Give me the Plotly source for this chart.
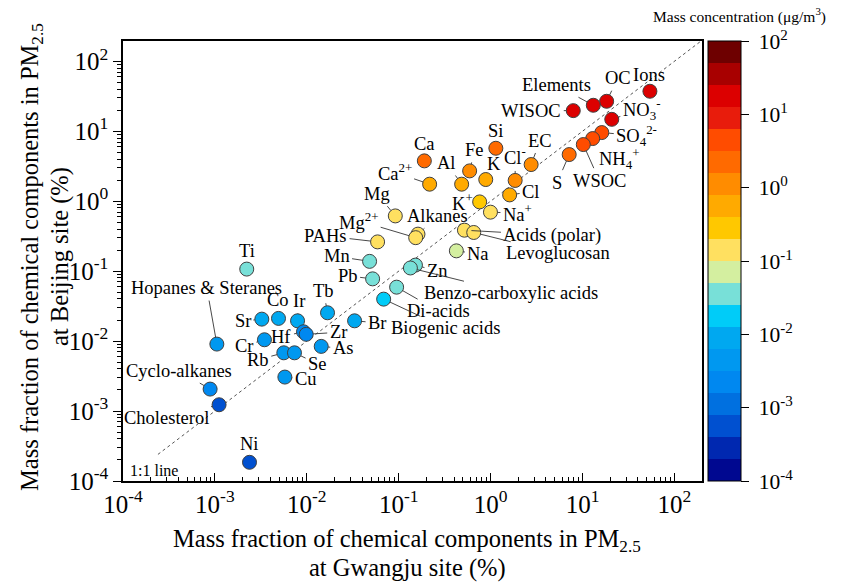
import numpy as np
import plotly.graph_objects as go

# ---------------- data ----------------
names = ["Ions", "OC", "Elements", "WISOC", "NO<sub>3</sub><sup>-</sup>", "SO<sub>4</sub><sup>2-</sup>",
         "NH<sub>4</sub><sup>+</sup>", "WSOC", "S", "EC", "Cl<sup>-</sup>", "Cl", "Si", "Fe", "K", "Al",
         "Ca", "Ca<sup>2+</sup>", "K<sup>+</sup>", "Na<sup>+</sup>", "Acids (polar)", "Levoglucosan",
         "Alkanes", "Mg<sup>2+</sup>", "Mg", "PAHs", "Mn", "Pb", "Na", "Zn", "Benzo-carboxylic acids",
         "Di-acids", "Biogenic acids", "Ti", "Hopanes &amp; Steranes", "Sr", "Co", "Ir", "Tb", "Br",
         "Cr", "Hf", "Zr", "As", "Rb", "Se", "Cu", "Cyclo-alkanes", "Cholesterol", "Ni"]

# mass fraction at Gwangju (%)
gwangju = [54.1, 18.3, 13.1, 7.93, 20.8, 16.2,
           12.9, 10.2, 7.16, 2.76, 1.85, 1.61, 1.14, 0.591, 0.885, 0.484,
           0.19, 0.217, 0.76, 0.996, 0.519, 0.655,
           0.162, 0.153, 0.0918, 0.0589, 0.0482, 0.052, 0.424, 0.152, 0.134,
           0.0949, 0.0686, 0.00222, 0.00105, 0.00324, 0.00492, 0.00793, 0.0168, 0.0331,
           0.00346, 0.0092, 0.00985, 0.01435, 0.00562, 0.00734, 0.00577, 0.000887, 0.00111, 0.00238]

# mass fraction at Beijing (%)
beijing = [37.3, 26.8, 23.5, 19.7, 14.8, 9.57,
           7.86, 6.45, 4.64, 3.34, 1.98, 1.23, 5.71, 2.71, 2.04, 1.75,
           3.77, 1.75, 0.977, 0.697, 0.385, 0.357,
           0.338, 0.301, 0.616, 0.262, 0.138, 0.0776, 0.195, 0.122, 0.111,
           0.059, 0.0398, 0.107, 0.00906, 0.0206, 0.0211, 0.0195, 0.0254, 0.0195,
           0.01045, 0.0136, 0.0125, 0.0084, 0.0068, 0.0068, 0.00306, 0.00206, 0.00123, 0.000185]

# mass concentration (ug/m3)
conc = [18, 18, 18, 18, 18, 4.5,
        4.5, 4.5, 2.2, 1.1, 1.1, 0.55, 2.2, 1.1, 0.55, 0.55,
        2.2, 0.55, 0.28, 0.14, 0.14, 0.14,
        0.14, 0.14, 0.14, 0.14, 0.035, 0.035, 0.07, 0.035, 0.035,
        0.035, 0.018, 0.035, 0.0045, 0.009, 0.009, 0.009, 0.009, 0.009,
        0.0045, 0.0022, 0.0022, 0.0045, 0.0045, 0.0045, 0.0045, 0.0022, 0.0006, 0.0006]

one_to_one = [2.4e-4, 200]
cbar_colors = ["#000890", "#0028B0", "#0050D0", "#0070E0", "#0088F0", "#0098F0", "#00A8F0",
               "#00CCF8", "#78E0D8", "#D4EFA0", "#FFE060", "#FFC800", "#FFAA00", "#FF8C00",
               "#FF6A00", "#FF4C00", "#E81C0C", "#DC0000", "#A80000", "#6E0000"]
decades = [-4, -3, -2, -1, 0, 1, 2]

x_title = ["Mass fraction of chemical components in PM<sub>2.5</sub>", "at Gwangju site (%)"]
y_title = ["Mass fraction of chemical components in PM<sub>2.5</sub>", "at Beijing site (%)"]
cbar_title = "Mass concentration (μg/m<sup>3</sup>)"

# label offsets in pixels (text centre minus point), flag = leader line drawn
label_pos = [(-1, -16, False), (11, -23, True), (-37, -20, True), (-42, 0, True), (30, -10, True), (35, 3, True),
             (27, 20, True), (16, 36, True), (-12, 28, True), (9, -24, True), (0, -24, True), (21, -3, True),
             (0, -17, False), (5, -21, True), (8, -16, False), (-15, -21, True),
             (0, -17, False), (-35, -12, True), (-17, 0, True), (27, 1, True), (88, 5, True), (84, 21, True),
             (20, -18, True), (-57, -17, True), (-18, -22, True), (-52, -6, True), (-33, -5, True), (-25, -3, True),
             (22, 3, True), (22, 6, True), (101, 25, True),
             (42, 24, True), (62, 29, True), (0, -18, False), (-10, -56, True), (-19, 2, True), (-1, -18, False),
             (1, -20, True), (-4, -22, True), (23, 2, True),
             (-20, 6, True), (-22, 5, True), (32, -2, True), (22, 2, True), (-26, 7, True), (23, 11, True),
             (21, 2, True), (-31, -18, True), (-53, 13, True), (0, -18, False)]

FONT = "Liberation Serif"

# page body has an 8px margin: figure is 8px smaller and everything offset by 8px
L, T, PW, PH = 115, 33, 579, 440


def px_x(sx):
    return (sx - 8 - L) / PW


def px_y(sy):
    return (T + PH - (sy - 8)) / PH


colorscale = []
n = len(cbar_colors)
for i, c in enumerate(cbar_colors):
    colorscale.append([i / n, c])
    colorscale.append([(i + 1) / n, c])

fig = go.Figure()

fig.add_trace(go.Scatter(
    x=one_to_one, y=one_to_one, mode="lines",
    line=dict(color="#555555", width=1, dash="dot"),
    showlegend=False, hoverinfo="skip"))

fig.add_trace(go.Scatter(
    x=gwangju, y=beijing, mode="markers", text=names,
    marker=dict(size=14, color=np.log10(conc), colorscale=colorscale, cmin=-4, cmax=2,
                line=dict(color="#404040", width=1),
                colorbar=dict(
                    x=px_x(708), xanchor="left", xpad=0,
                    y=0, yanchor="bottom", len=1, lenmode="fraction", ypad=0,
                    thickness=33, outlinewidth=1, outlinecolor="black",
                    tickmode="array", tickvals=decades,
                    ticktext=[f"&nbsp;10<sup>{d}</sup>" for d in decades],
                    ticks="outside", ticklen=8, tickcolor="black",
                    tickfont=dict(family=FONT, size=21.5, color="black"))),
    showlegend=False))

for nm, gx, by, (dx, dy, arrow) in zip(names, gwangju, beijing, label_pos):
    fig.add_annotation(
        x=np.log10(gx), y=np.log10(by), xref="x", yref="y", text=nm,
        showarrow=True, ax=dx, ay=dy, arrowhead=0, arrowwidth=0.9,
        arrowcolor="#333333" if arrow else "rgba(0,0,0,0)",
        standoff=7, startstandoff=1,
        font=dict(family=FONT, size=18.5, color="black"))

fig.add_annotation(x=np.log10(one_to_one[0]), y=np.log10(one_to_one[0]), xref="x", yref="y",
                   text="1:1 line", showarrow=False, xshift=-4, yshift=-16,
                   font=dict(family=FONT, size=16, color="black"))

fig.add_annotation(x=px_x(828), y=px_y(15), xref="paper", yref="paper",
                   xanchor="right", yanchor="middle", text=cbar_title, showarrow=False,
                   font=dict(family=FONT, size=15.5, color="black"))

# axis titles (one annotation per line)
for txt, sx in zip(y_title, [31, 60]):
    fig.add_annotation(x=px_x(sx), y=px_y(257), xref="paper", yref="paper", textangle=-90,
                       xanchor="center", yanchor="middle", showarrow=False, text=txt,
                       font=dict(family=FONT, size=24.5, color="black"))
for txt, sy in zip(x_title, [540, 568]):
    fig.add_annotation(x=px_x(407), y=px_y(sy), xref="paper", yref="paper",
                       xanchor="center", yanchor="middle", showarrow=False, text=txt,
                       font=dict(family=FONT, size=24.5, color="black"))

minor_vals = [m * 10.0 ** d for d in range(-4, 3) for m in range(2, 10)]
tickvals = [10.0 ** d for d in decades]
ticktext = [f"10<sup>{d}</sup>" for d in decades]

axis_common = dict(type="log", showline=True, linecolor="black", linewidth=1.5, mirror=True,
                   showgrid=False, zeroline=False, tickmode="array", tickvals=tickvals,
                   ticktext=ticktext, ticklen=8, tickcolor="black", automargin=False,
                   tickfont=dict(family=FONT, size=25, color="black"))

fig.update_xaxes(**axis_common, range=[-4, 2.3], ticks="inside",
                 minor=dict(tickmode="array", tickvals=minor_vals, ticks="inside", ticklen=4, tickcolor="black"))
fig.update_yaxes(**axis_common, range=[-4, 2.29], ticks="outside",
                 minor=dict(tickmode="array", tickvals=minor_vals, ticks="outside", ticklen=4, tickcolor="black"))

fig.update_layout(width=836, height=574,
                  margin=dict(l=L, r=836 - L - PW, t=T, b=574 - T - PH, autoexpand=False),
                  plot_bgcolor="white", paper_bgcolor="white", showlegend=False,
                  font=dict(family=FONT))

fig.write_html("out.html")
